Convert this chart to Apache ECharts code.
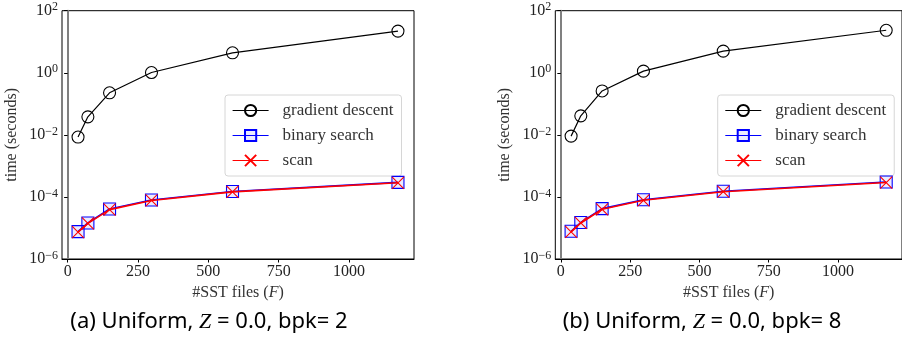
<!DOCTYPE html>
<html>
<head>
<meta charset="utf-8">
<script src="https://cdn.jsdelivr.net/npm/echarts@6/dist/echarts.min.js"></script>
<style>html,body{margin:0;padding:0;background:#fff}#c{width:902px;height:341px}</style>
</head>
<body>
<div id="c"></div>
<script>
const xValues = [37, 72, 149, 298, 586, 1174];
const xTicks = [0, 250, 500, 750, 1000];
const seriesNames = ['gradient descent', 'binary search', 'scan'];
const captions = ['(a) Uniform, {i|Z} = 0.0, bpk= 2', '(b) Uniform, {i|Z} = 0.0, bpk= 8'];

const gdA = [0.0085, 0.038, 0.226, 1.02, 4.4, 22];
const bsA = [7.6e-6, 1.45e-5, 4.1e-5, 8.0e-5, 1.5e-4, 2.95e-4];
const scA = [7.3e-6, 1.4e-5, 3.9e-5, 7.7e-5, 1.45e-4, 2.85e-4];

const gdB = [0.0091, 0.041, 0.26, 1.13, 5.0, 23.4];
const bsB = [7.8e-6, 1.5e-5, 4.2e-5, 8.1e-5, 1.53e-4, 3.02e-4];
const scB = [7.5e-6, 1.45e-5, 4.0e-5, 7.8e-5, 1.47e-4, 2.9e-4];

const SERIF = '"Liberation Serif", "DejaVu Serif", serif';
const SANS = '"Noto Sans", "Open Sans", sans-serif';

const pairs = arr => xValues.map((x, i) => [x, arr[i]]);
const xMark = 'path://M0,0L10,10M10,0L0,10';

const grids = [
  {left: 62, top: 10.7, width: 352, height: 248.3},
  {left: 555.3, top: 10.7, width: 351.2, height: 248.3}
];

function xAxisFor(i) {
  return {
    type: 'value', gridIndex: i, min: -20, max: 1231,
    splitLine: {show: false},
    axisLine: {show: true, lineStyle: {color: '#000', width: 1}},
    axisTick: {show: true, length: 3.5, customValues: xTicks, lineStyle: {color: '#000'}},
    axisLabel: {customValues: xTicks, formatter: v => String(v), color: '#222', fontFamily: SERIF, fontSize: 16, margin: 5},
    name: '#SST files ({i|F})', nameLocation: 'middle', nameGap: 25,
    nameTextStyle: {color: '#333', fontFamily: SERIF, fontSize: 16,
      rich: {i: {fontStyle: 'italic', fontFamily: SERIF, fontSize: 16, color: '#333'}}}
  };
}
function yAxisFor(i, gap) {
  return {
    type: 'log', logBase: 10, gridIndex: i, min: 1e-6, max: 100, interval: 2,
    splitLine: {show: false},
    axisLine: {show: true, lineStyle: {color: '#808080', width: 2}},
    axisTick: {show: true, length: 3.5, lineStyle: {color: '#000'}},
    axisLabel: {
      margin: 4,
      formatter: v => {
        const e = Math.round(Math.log10(v));
        return '{b|10}{s|' + (e < 0 ? '\u2212' : '') + Math.abs(e) + '}';
      },
      rich: {
        b: {fontFamily: SERIF, fontSize: 16, color: '#222', lineHeight: 18},
        s: {fontFamily: SERIF, fontSize: 12, color: '#222', verticalAlign: 'top', padding: [0, 0, 7, 0]}
      }
    },
    name: 'time (seconds)', nameLocation: 'middle', nameGap: gap,
    nameTextStyle: {color: '#333', fontFamily: SERIF, fontSize: 16}
  };
}
function seriesFor(i, gd, bs, sc) {
  return [
    {name: seriesNames[0], type: 'line', xAxisIndex: i, yAxisIndex: i, data: pairs(gd),
     symbol: 'circle', symbolSize: 12,
     lineStyle: {color: '#000', width: 1.2},
     itemStyle: {color: 'rgba(0,0,0,0)', borderColor: '#000', borderWidth: 1.1},
     emphasis: {disabled: true}, z: 3},
    {name: seriesNames[1], type: 'line', xAxisIndex: i, yAxisIndex: i, data: pairs(bs),
     symbol: 'rect', symbolSize: 12,
     lineStyle: {color: '#0000ff', width: 1.6},
     itemStyle: {color: 'rgba(0,0,255,0.08)', borderColor: '#0000ff', borderWidth: 1.1},
     emphasis: {disabled: true}, z: 4},
    {name: seriesNames[2], type: 'line', xAxisIndex: i, yAxisIndex: i, data: pairs(sc),
     symbol: xMark, symbolSize: 12,
     lineStyle: {color: '#ff0000', width: 1.6},
     itemStyle: {color: 'none', borderColor: '#ff0000', borderWidth: 1.1},
     emphasis: {disabled: true}, z: 5}
  ];
}
function legendFor(left) {
  return {
    data: seriesNames, orient: 'vertical', left: left, top: 95,
    itemWidth: 36, itemHeight: 14, itemGap: 8,
    padding: [7, 8, 7, 7],
    lineStyle: {width: 1.2},
    backgroundColor: 'rgba(255,255,255,0.85)', borderColor: '#d6d6d6', borderWidth: 1, borderRadius: 3,
    textStyle: {fontFamily: SERIF, fontSize: 17, color: '#333', lineHeight: 16, padding: [0, 0, 0, 9]},
    selectedMode: false
  };
}

const chart = echarts.init(document.getElementById('c'), null, {renderer: 'canvas'});
chart.setOption({
  animation: false,
  backgroundColor: '#fff',
  grid: grids.map(g => Object.assign({show: true, borderColor: '#000', borderWidth: 1, backgroundColor: 'transparent'}, g)),
  xAxis: [xAxisFor(0), xAxisFor(1)],
  yAxis: [yAxisFor(0, 42), yAxisFor(1, 43)],
  legend: [legendFor(225), legendFor(717.7)],
  title: captions.map((t, i) => ({
    text: t, left: i === 0 ? 209 : 702, top: 308, textAlign: 'center', padding: 0,
    textStyle: {fontFamily: SANS, fontSize: 22, fontWeight: 'normal', color: '#000', lineHeight: 28,
      rich: {i: {fontStyle: 'italic', fontFamily: SERIF, fontSize: 22, color: '#000', lineHeight: 28}}}
  })),
  series: [...seriesFor(0, gdA, bsA, scA), ...seriesFor(1, gdB, bsB, scB)]
});
</script>
</body>
</html>
